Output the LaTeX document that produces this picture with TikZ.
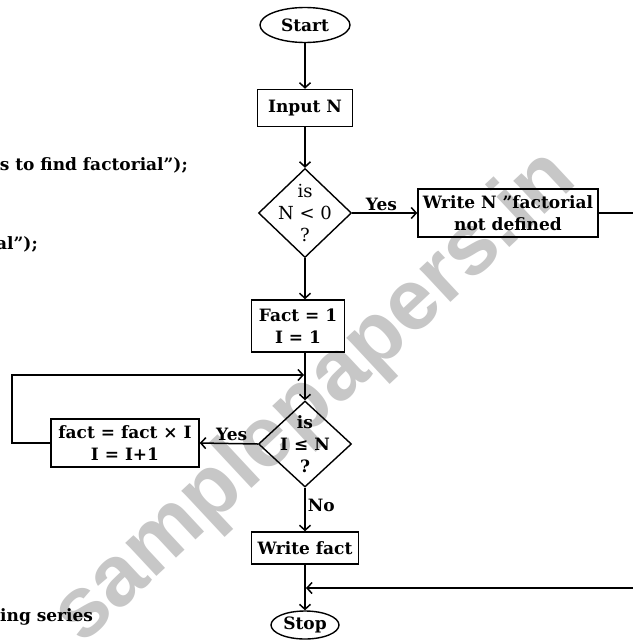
\documentclass[tikz,border=0pt]{standalone}
\usepackage{fontspec}
\setmainfont{DejaVu Serif}
\newfontfamily\wmfont{Liberation Sans}
\usetikzlibrary{shapes.geometric,arrows.meta}
\begin{document}
\begin{tikzpicture}[x=1pt,y=-1pt,
  txt/.style={font=\fontsize{17}{22}\selectfont\bfseries},
  box/.style={draw, line width=1.5pt, inner sep=0pt, align=center, txt},
  term/.style={ellipse, draw, line width=1.4pt, inner sep=0pt, txt},
  dec/.style={diamond, draw, line width=1.4pt, inner sep=0pt},
  lbl/.style={txt, inner sep=2pt},
  arr/.style={line width=1.5pt, -{Straight Barb[length=5pt,width=11pt,line width=1.5pt]}},
  wm/.style={text=black!22, font=\wmfont\bfseries\fontsize{86}{86}\selectfont}
]
\useasboundingbox (0,0) rectangle (632,642);
\fill[white] (0,0) rectangle (632,642);
% watermark
\node[wm, rotate=43] (wmark) at (316,398) {samplepapers.in};
% stray text
\node[txt, anchor=base east, inner sep=0pt] (s1) at (188,170) {s to find factorial”);};
\node[txt, anchor=base east, inner sep=0pt] (s2) at (38,249) {al”);};
\node[txt, anchor=base west, inner sep=0pt] (s3) at (0,621) {ing series};
% nodes
\node[term, minimum width=90pt, minimum height=35pt] (start) at (305,25) {Start};
\node[box, minimum width=95pt, minimum height=37pt] (input) at (305,108) {Input N};
\node[dec, minimum width=93pt, minimum height=89pt] (d1) at (305,213) {};
\node[font=\fontsize{18}{22}\selectfont, align=center, inner sep=0pt] (d1t) at (d1) {is\\N < 0\\?};
\node[box, minimum width=180pt, minimum height=48pt] (write1) at (508,213) {Write N "factorial\\not defined};
\node[box, minimum width=93pt, minimum height=52pt] (fact1) at (298,326) {Fact = 1\\I = 1};
\node[dec, minimum width=93pt, minimum height=86pt] (d2) at (305,444) {};
\node[txt, align=center, inner sep=0pt] (d2t) at (d2) {is\\I ≤ N\\?};
\node[box, minimum width=148pt, minimum height=48pt] (fact2) at (125,443) {fact = fact × I\\I = I+1};
\node[box, minimum width=107pt, minimum height=32pt] (wfact) at (305,548) {Write fact};
\node[term, minimum width=68pt, minimum height=28pt] (stop) at (305,625) {Stop};
% helper coordinates
\coordinate (rt1) at (640,213);
\coordinate (rt2) at (640,588);
\coordinate (m) at (306,588);
\coordinate (lp1) at (12,443);
\coordinate (lp2) at (12,375);
\coordinate (lp3) at (304,375);
% connectors
\draw[arr] (start) -- (input);
\draw[arr] (input) -- (d1);
\draw[arr] (d1.east) -- node[lbl, above, pos=0.45] (y1) {Yes} (write1.west);
\draw[arr] (write1.east) -- (rt1) -- (rt2) -- (m);
\draw[arr] (d1.south) -- (d1.south |- fact1.north);
\draw[arr] (d2.north |- fact1.south) -- (d2.north);
\draw[arr] (fact2.west) -- (lp1) -- (lp2) -- (lp3);
\draw[arr] (d2.west) -- node[lbl, above, pos=0.45] (y2) {Yes} (fact2.east);
\draw[arr] (d2.south) -- node[lbl, right, pos=0.4] (no) {No} (wfact.north);
\draw[arr] (wfact) -- (stop);
\end{tikzpicture}
\end{document}
